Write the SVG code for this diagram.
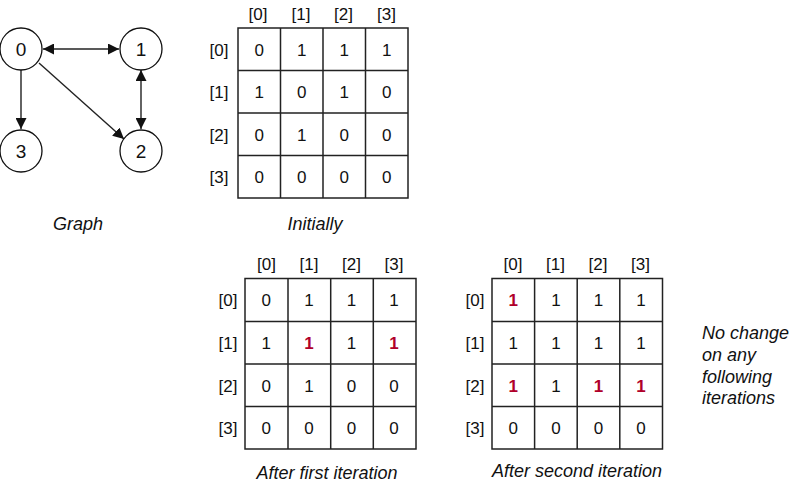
<svg xmlns="http://www.w3.org/2000/svg" width="798" height="485" viewBox="0 0 798 485">
<style>
text{font-family:"Liberation Sans",Arial,sans-serif;fill:#111;text-anchor:middle}
.n{font-size:19px}
.c{font-size:17px}
.h{font-size:17px}
.r{fill:#b0002a;font-weight:bold}
.cap{font-size:18px;font-style:italic}
.node circle{fill:#fff;stroke:#111;stroke-width:1.3}
.grid{fill:none;stroke:#222;stroke-width:1.5}
.edge{stroke:#222;stroke-width:1.4;fill:none}
</style>
<defs>
<marker id="ah" viewBox="0 0 10 10" refX="10" refY="5" markerWidth="11" markerHeight="11" markerUnits="userSpaceOnUse" orient="auto-start-reverse">
<path d="M0,0 L10,5 L0,10 z" fill="#111"/>
</marker>
</defs>

<g id="connectors">
<line class="edge" x1="43" y1="49" x2="119" y2="49" marker-start="url(#ah)" marker-end="url(#ah)"/>
<line class="edge" x1="21" y1="70" x2="21" y2="129" marker-end="url(#ah)"/>
<line class="edge" x1="141" y1="70" x2="141" y2="129" marker-start="url(#ah)" marker-end="url(#ah)"/>
<line class="edge" x1="39" y1="63" x2="124" y2="139" marker-end="url(#ah)"/>
</g>

<g id="node0" class="node"><circle cx="21" cy="49" r="21"/><text class="n" x="21" y="56">0</text></g>
<g id="node1" class="node"><circle cx="141" cy="49" r="21"/><text class="n" x="141" y="56">1</text></g>
<g id="node2" class="node"><circle cx="141" cy="151" r="21"/><text class="n" x="141" y="158">2</text></g>
<g id="node3" class="node"><circle cx="21" cy="151" r="21"/><text class="n" x="21" y="158">3</text></g>
<text class="cap" x="78" y="230">Graph</text>

<g id="matrix-initial">
<rect class="grid" x="238" y="28" width="170" height="170"/>
<path class="grid" d="M280.5,28V198M323,28V198M365.5,28V198M238,70.5H408M238,113H408M238,155.5H408"/>
<text class="h" x="258" y="20">[0]</text><text class="h" x="301" y="20">[1]</text><text class="h" x="343.5" y="20">[2]</text><text class="h" x="386.5" y="20">[3]</text>
<text class="h" x="219" y="55.5">[0]</text><text class="h" x="219" y="98">[1]</text><text class="h" x="219" y="140.5">[2]</text><text class="h" x="219" y="183">[3]</text>
<text class="c" x="259.25" y="55.5">0</text><text class="c" x="301.75" y="55.5">1</text><text class="c" x="344.25" y="55.5">1</text><text class="c" x="386.75" y="55.5">1</text>
<text class="c" x="259.25" y="98">1</text><text class="c" x="301.75" y="98">0</text><text class="c" x="344.25" y="98">1</text><text class="c" x="386.75" y="98">0</text>
<text class="c" x="259.25" y="140.5">0</text><text class="c" x="301.75" y="140.5">1</text><text class="c" x="344.25" y="140.5">0</text><text class="c" x="386.75" y="140.5">0</text>
<text class="c" x="259.25" y="183">0</text><text class="c" x="301.75" y="183">0</text><text class="c" x="344.25" y="183">0</text><text class="c" x="386.75" y="183">0</text>
<text class="cap" x="315" y="230">Initially</text>
</g>

<g id="matrix-first">
<rect class="grid" x="245" y="278.5" width="171" height="170.5"/>
<path class="grid" d="M288,278.5V449M330.7,278.5V449M373.3,278.5V449M245,321.5H416M245,364H416M245,406.5H416"/>
<text class="h" x="266.5" y="270">[0]</text><text class="h" x="309" y="270">[1]</text><text class="h" x="351.5" y="270">[2]</text><text class="h" x="394" y="270">[3]</text>
<text class="h" x="228" y="306">[0]</text><text class="h" x="228" y="348.5">[1]</text><text class="h" x="228" y="391.5">[2]</text><text class="h" x="228" y="434">[3]</text>
<text class="c" x="266.3" y="306">0</text><text class="c" x="308.9" y="306">1</text><text class="c" x="351.5" y="306">1</text><text class="c" x="394.1" y="306">1</text>
<text class="c" x="266.3" y="348.5">1</text><text class="c r" x="308.9" y="348.5">1</text><text class="c" x="351.5" y="348.5">1</text><text class="c r" x="394.1" y="348.5">1</text>
<text class="c" x="266.3" y="391.5">0</text><text class="c" x="308.9" y="391.5">1</text><text class="c" x="351.5" y="391.5">0</text><text class="c" x="394.1" y="391.5">0</text>
<text class="c" x="266.3" y="434">0</text><text class="c" x="308.9" y="434">0</text><text class="c" x="351.5" y="434">0</text><text class="c" x="394.1" y="434">0</text>
<text class="cap" x="327" y="479">After first iteration</text>
</g>

<g id="matrix-second">
<rect class="grid" x="492" y="278.5" width="170.5" height="170.5"/>
<path class="grid" d="M534.6,278.5V449M577.2,278.5V449M619.8,278.5V449M492,321.5H662.5M492,364H662.5M492,406.5H662.5"/>
<text class="h" x="513" y="270">[0]</text><text class="h" x="555.5" y="270">[1]</text><text class="h" x="598" y="270">[2]</text><text class="h" x="640.5" y="270">[3]</text>
<text class="h" x="475" y="306">[0]</text><text class="h" x="475" y="348.5">[1]</text><text class="h" x="475" y="391.5">[2]</text><text class="h" x="475" y="434">[3]</text>
<text class="c r" x="513.3" y="306">1</text><text class="c" x="555.9" y="306">1</text><text class="c" x="598.5" y="306">1</text><text class="c" x="641.1" y="306">1</text>
<text class="c" x="513.3" y="348.5">1</text><text class="c" x="555.9" y="348.5">1</text><text class="c" x="598.5" y="348.5">1</text><text class="c" x="641.1" y="348.5">1</text>
<text class="c r" x="513.3" y="391.5">1</text><text class="c" x="555.9" y="391.5">1</text><text class="c r" x="598.5" y="391.5">1</text><text class="c r" x="641.1" y="391.5">1</text>
<text class="c" x="513.3" y="434">0</text><text class="c" x="555.9" y="434">0</text><text class="c" x="598.5" y="434">0</text><text class="c" x="641.1" y="434">0</text>
<text class="cap" x="577" y="477">After second iteration</text>
</g>

<g id="note">
<text class="cap" style="text-anchor:start" x="702" y="339">No change</text>
<text class="cap" style="text-anchor:start" x="702" y="361">on any</text>
<text class="cap" style="text-anchor:start" x="702" y="382.5">following</text>
<text class="cap" style="text-anchor:start" x="702" y="404">iterations</text>
</g>
</svg>
